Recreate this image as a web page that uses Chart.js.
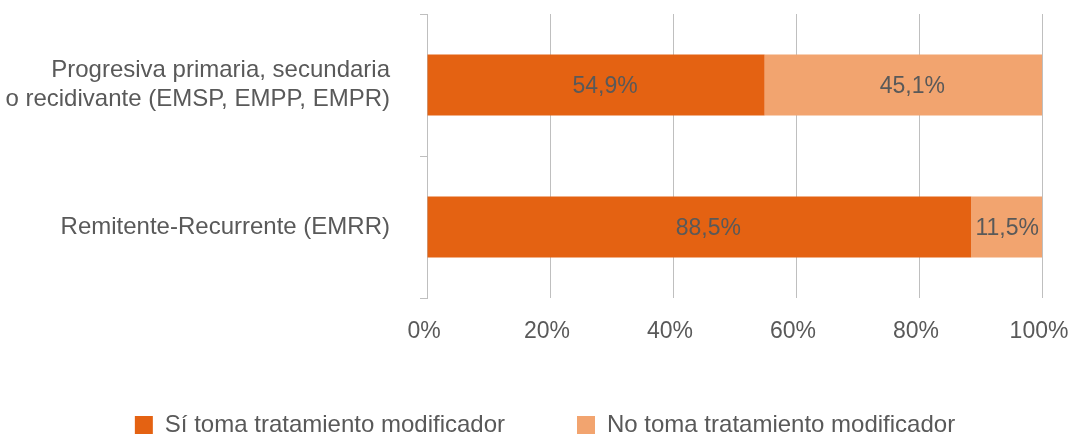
<!DOCTYPE html>
<html>
<head>
<meta charset="utf-8">
<script src="https://cdn.jsdelivr.net/npm/chart.js"></script>
<style>
  html, body { margin: 0; padding: 0; background: #fff; }
  #wrap { width: 1069px; height: 435px; position: relative; }
</style>
</head>
<body>
<div id="wrap"><canvas id="myChart"></canvas></div>
<script>
const categories = [
    ["Progresiva primaria, secundaria", "o recidivante (EMSP, EMPP, EMPR)"],
    "Remitente-Recurrente (EMRR)"
]
const siToma = [54.9, 88.5]
const noToma = [45.1, 11.5]
const seriesNames = ["Sí toma tratamiento modificador", "No toma tratamiento modificador"]
const xTicks = [0, 20, 40, 60, 80, 100]

const textColor = '#595959'
const gridColor = '#bfbfbf'
const fontFamily = "'Liberation Sans', Arial, sans-serif"

// draws the value in each bar segment (nudged right like the original, kept inside the plot)
const barLabels = {
    id: 'barLabels',
    afterDatasetsDraw(chart) {
        const ctx = chart.ctx
        const right = chart.chartArea.right
        ctx.save()
        ctx.font = '23px ' + fontFamily
        ctx.fillStyle = textColor
        ctx.textAlign = 'center'
        ctx.textBaseline = 'middle'
        chart.data.datasets.forEach((ds, i) => {
            chart.getDatasetMeta(i).data.forEach((bar, j) => {
                const txt = ds.data[j].toFixed(1).replace('.', ',') + '%'
                const w = ctx.measureText(txt).width
                let x = (bar.x + bar.base) / 2 + 9
                if (x + w / 2 > right - 3) x = right - 3 - w / 2
                ctx.fillText(txt, x, bar.y + 2)
            })
        })
        ctx.restore()
    }
}

// the legend row sits a bit right of the centre in the original
const legendShift = {
    id: 'legendShift',
    afterLayout(chart) {
        chart.legend.left += 24
        chart.legend.right += 24
    }
}

const data = {
    labels: categories,
    datasets: [{
        label: seriesNames[0],
        backgroundColor: '#e46212',
        data: siToma,
        barPercentage: 0.43,
        categoryPercentage: 1
    }, {
        label: seriesNames[1],
        backgroundColor: '#f2a46f',
        data: noToma,
        barPercentage: 0.43,
        categoryPercentage: 1
    }]
}

const config = {
    type: 'bar',
    data: data,
    options: {
        indexAxis: 'y',
        responsive: true,
        maintainAspectRatio: false,
        animation: false,
        layout: { padding: { top: 14, right: 27, bottom: -12, left: 0 } },
        plugins: {
            tooltip: { enabled: false },
            legend: {
                position: 'bottom',
                labels: {
                    color: textColor,
                    font: { size: 24, family: fontFamily },
                    boxWidth: 18,
                    boxHeight: 18,
                    padding: 72,
                    useBorderRadius: false
                }
            }
        },
        scales: {
            x: {
                stacked: true,
                min: 0,
                max: 100,
                afterBuildTicks: (axis) => { axis.ticks = xTicks.map(v => ({ value: v })) },
                grid: { color: gridColor, lineWidth: 1, drawTicks: false },
                border: { display: false },
                ticks: {
                    color: textColor,
                    font: { size: 23, family: fontFamily },
                    padding: 20,
                    labelOffset: -3,
                    callback: (v) => v + '%'
                },
                afterFit: (axis) => {
                    axis.height = 43
                    axis.paddingLeft = 0
                    axis.paddingRight = 0
                }
            },
            y: {
                stacked: true,
                grid: { offset: true, drawOnChartArea: false, drawTicks: true, tickLength: 7, color: gridColor },
                border: { display: true, color: gridColor },
                ticks: {
                    color: textColor,
                    font: { size: 24, family: fontFamily },
                    padding: 30,
                    crossAlign: 'near'
                },
                afterFit: (axis) => {
                    axis.width = 427
                    axis.paddingTop = 0
                    axis.paddingBottom = 0
                }
            }
        }
    },
    plugins: [barLabels, legendShift]
}

const myChart = new Chart(document.getElementById('myChart'), config)
</script>
</body>
</html>
